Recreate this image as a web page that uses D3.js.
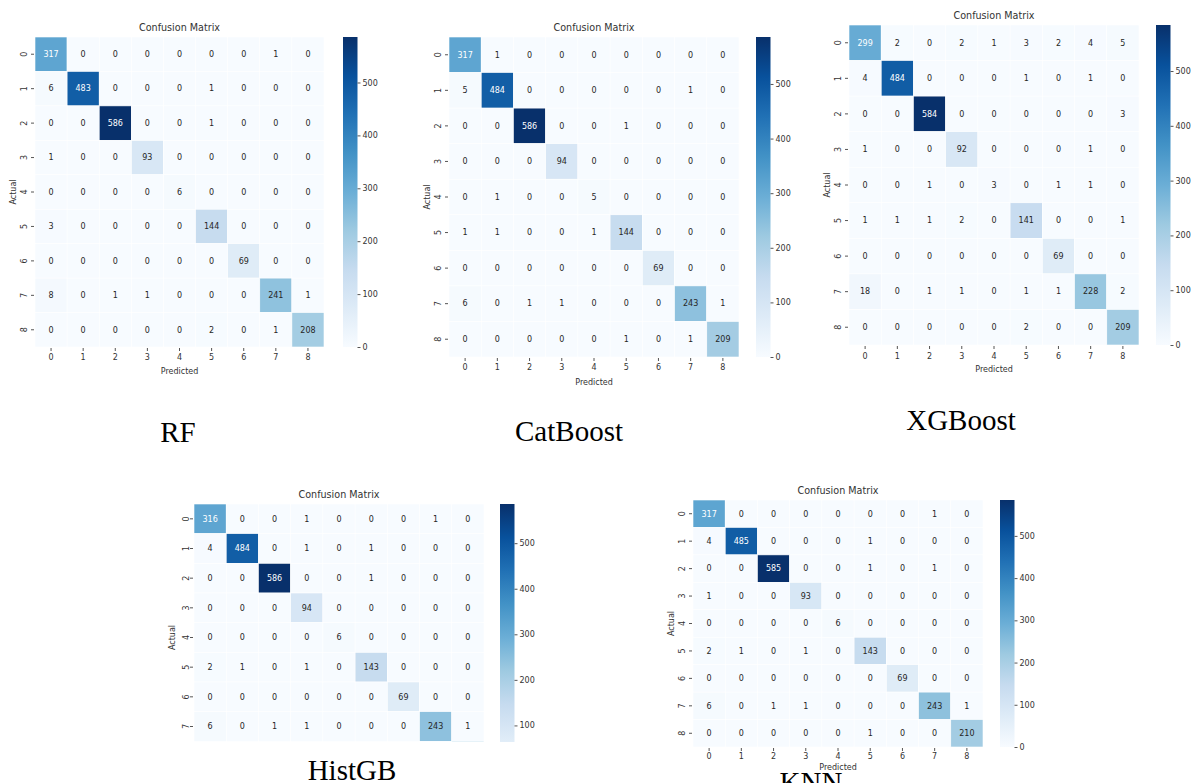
<!DOCTYPE html>
<html>
<head>
<meta charset="utf-8">
<script src="https://cdn.jsdelivr.net/npm/d3@7"></script>
<style>
body { margin: 0; background: #fff; }
svg { display: block; }
</style>
</head>
<body>
<script>
// class labels on both axes
const classes = ["0", "1", "2", "3", "4", "5", "6", "7", "8"]
const cbarTicks = [0, 100, 200, 300, 400, 500]

// confusion matrices, rows = actual, cols = predicted
const rfMatrix = [
    [317, 0, 0, 0, 0, 0, 0, 1, 0],
    [6, 483, 0, 0, 0, 1, 0, 0, 0],
    [0, 0, 586, 0, 0, 1, 0, 0, 0],
    [1, 0, 0, 93, 0, 0, 0, 0, 0],
    [0, 0, 0, 0, 6, 0, 0, 0, 0],
    [3, 0, 0, 0, 0, 144, 0, 0, 0],
    [0, 0, 0, 0, 0, 0, 69, 0, 0],
    [8, 0, 1, 1, 0, 0, 0, 241, 1],
    [0, 0, 0, 0, 0, 2, 0, 1, 208]
]
const catMatrix = [
    [317, 1, 0, 0, 0, 0, 0, 0, 0],
    [5, 484, 0, 0, 0, 0, 0, 1, 0],
    [0, 0, 586, 0, 0, 1, 0, 0, 0],
    [0, 0, 0, 94, 0, 0, 0, 0, 0],
    [0, 1, 0, 0, 5, 0, 0, 0, 0],
    [1, 1, 0, 0, 1, 144, 0, 0, 0],
    [0, 0, 0, 0, 0, 0, 69, 0, 0],
    [6, 0, 1, 1, 0, 0, 0, 243, 1],
    [0, 0, 0, 0, 0, 1, 0, 1, 209]
]
const xgbMatrix = [
    [299, 2, 0, 2, 1, 3, 2, 4, 5],
    [4, 484, 0, 0, 0, 1, 0, 1, 0],
    [0, 0, 584, 0, 0, 0, 0, 0, 3],
    [1, 0, 0, 92, 0, 0, 0, 1, 0],
    [0, 0, 1, 0, 3, 0, 1, 1, 0],
    [1, 1, 1, 2, 0, 141, 0, 0, 1],
    [0, 0, 0, 0, 0, 0, 69, 0, 0],
    [18, 0, 1, 1, 0, 1, 1, 228, 2],
    [0, 0, 0, 0, 0, 2, 0, 0, 209]
]
const histMatrix = [
    [316, 0, 0, 1, 0, 0, 0, 1, 0],
    [4, 484, 0, 1, 0, 1, 0, 0, 0],
    [0, 0, 586, 0, 0, 1, 0, 0, 0],
    [0, 0, 0, 94, 0, 0, 0, 0, 0],
    [0, 0, 0, 0, 6, 0, 0, 0, 0],
    [2, 1, 0, 1, 0, 143, 0, 0, 0],
    [0, 0, 0, 0, 0, 0, 69, 0, 0],
    [6, 0, 1, 1, 0, 0, 0, 243, 1],
    [0, 0, 0, 0, 0, 1, 0, 0, 210]   // hidden by the crop in the source
]
const knnMatrix = [
    [317, 0, 0, 0, 0, 0, 0, 1, 0],
    [4, 485, 0, 0, 0, 1, 0, 0, 0],
    [0, 0, 585, 0, 0, 1, 0, 1, 0],
    [1, 0, 0, 93, 0, 0, 0, 0, 0],
    [0, 0, 0, 0, 6, 0, 0, 0, 0],
    [2, 1, 0, 1, 0, 143, 0, 0, 0],
    [0, 0, 0, 0, 0, 0, 69, 0, 0],
    [6, 0, 1, 1, 0, 0, 0, 243, 1],
    [0, 0, 0, 0, 0, 1, 0, 0, 210]
]

// where each screenshot sits on the page
const panels = [
    { name: "RF", m: rfMatrix, x0: 35, x1: 324, y0: 37, y1: 347, cb: 343, xt: 11, xl: 24, lx: 178, ly: 442 },
    { name: "CatBoost", m: catMatrix, x0: 449, x1: 739, y0: 37, y1: 357, cb: 756, xt: 11, xl: 25, lx: 569, ly: 441 },
    { name: "XGBoost", m: xgbMatrix, x0: 849, x1: 1139, y0: 25, y1: 345, cb: 1156, xt: 12, xl: 24, lx: 961, ly: 430 },
    { name: "HistGB", m: histMatrix, x0: 194, x1: 484, y0: 504, y1: 771, cb: 500, xt: 11, xl: 24, lx: 352, ly: 780, clip: 742, yt: 8 },
    { name: "KNN", m: knnMatrix, x0: 693, x1: 983, y0: 500, y1: 747, cb: 1000, xt: 10, xl: 20, lx: 811, ly: 792 }
]

const W = 1195, H = 783
const font = "DejaVu Sans, sans-serif"
const txt = "#333"

// matplotlib "Blues" = linear segments through the 9 brewer colours
const blues = d3.scaleLinear()
    .domain(d3.range(9).map(i => i / 8))
    .range(d3.schemeBlues[9])
    .interpolate(d3.interpolateRgb)

function lum(c) {
    let rgb = d3.rgb(c)
    let f = v => { v /= 255; return v <= 0.03928 ? v / 12.92 : Math.pow((v + 0.055) / 1.055, 2.4) }
    return 0.2126 * f(rgb.r) + 0.7152 * f(rgb.g) + 0.0722 * f(rgb.b)
}

let svg = d3.select("body").append("svg")
    .attr("width", W)
    .attr("height", H)
    .style("font-family", font)

let defs = svg.append("defs")
let grad = defs.append("linearGradient")
    .attr("id", "cbar")
    .attr("x1", 0).attr("y1", 1).attr("x2", 0).attr("y2", 0)
d3.range(0, 1.0001, 0.125).forEach(t => {
    grad.append("stop").attr("offset", t).attr("stop-color", blues(t))
})

panels.forEach((p, pi) => drawPanel(p, pi))

function drawPanel(p, pi) {
    let vmax = d3.max(p.m.flat())
    let x = d3.scaleBand().domain(classes).range([p.x0, p.x1])
    let y = d3.scaleBand().domain(classes).range([p.y0, p.y1])
    let color = v => blues(v / vmax)
    // the HistGB screenshot is cropped at the bottom
    let bottom = p.clip || H
    let shown = py => py < bottom - 4

    let g = svg.append("g")
    if (p.clip) {
        defs.append("clipPath").attr("id", "clip" + pi)
            .append("rect").attr("x", 0).attr("y", 0).attr("width", W).attr("height", p.clip)
        g.attr("clip-path", `url(#clip${pi})`)
    }

    let cells = []
    p.m.forEach((row, r) => row.forEach((v, c) => cells.push({ r: r, c: c, v: v })))

    g.append("g").selectAll("rect")
        .data(cells)
        .enter()
        .append("rect")
            .attr("x", d => x(classes[d.c]))
            .attr("y", d => y(classes[d.r]))
            .attr("width", x.bandwidth())
            .attr("height", y.bandwidth())
            .attr("fill", d => color(d.v))
            .attr("stroke", "#fff")
            .attr("stroke-width", 0.6)

    g.append("g").selectAll("text")
        .data(cells.filter(d => shown(y(classes[d.r]) + y.bandwidth() / 2)))
        .enter()
        .append("text")
            .attr("x", d => x(classes[d.c]) + x.bandwidth() / 2)
            .attr("y", d => y(classes[d.r]) + y.bandwidth() / 2)
            .attr("text-anchor", "middle")
            .attr("dy", "0.35em")
            .style("font-size", "8px")
            .attr("fill", d => lum(color(d.v)) > 0.408 ? "#262626" : "#fff")
            .text(d => d.v)

    // title
    g.append("text")
        .attr("x", (p.x0 + p.x1) / 2)
        .attr("y", p.y0 - 6)
        .attr("text-anchor", "middle")
        .style("font-size", "9.6px")
        .attr("fill", txt)
        .text("Confusion Matrix")

    // x axis (only if the crop leaves it visible)
    if (!p.clip) {
        let xa = g.append("g")
            .attr("transform", `translate(0,${p.y1})`)
            .call(d3.axisBottom(x).tickSize(3).tickPadding(p.xt - 7))
        xa.select(".domain").remove()
        xa.selectAll("line").attr("stroke", "#555").attr("transform", "translate(0,1)")
        xa.selectAll("text").style("font-size", "8px").style("font-family", font).attr("fill", txt)

        g.append("text")
            .attr("x", (p.x0 + p.x1) / 2)
            .attr("y", p.y1 + p.xl + 3)
            .attr("text-anchor", "middle")
            .style("font-size", "8px")
            .attr("fill", txt)
            .text("Predicted")
    }

    // y axis, labels rotated like matplotlib
    let yt = p.yt || 11
    let ya = g.append("g")
        .attr("transform", `translate(${p.x0},0)`)
        .call(d3.axisLeft(y).tickSize(3).tickFormat(""))
    ya.select(".domain").remove()
    ya.selectAll("line").attr("stroke", "#555").attr("transform", "translate(-1,0)")
    g.append("g").selectAll("text")
        .data(classes.filter(d => shown(y(d) + y.bandwidth() / 2)))
        .enter()
        .append("text")
            .attr("transform", d => `translate(${p.x0 - yt + 3},${y(d) + y.bandwidth() / 2}) rotate(-90)`)
            .attr("text-anchor", "middle")
            .style("font-size", "8px")
            .attr("fill", txt)
            .text(d => d)

    g.append("text")
        .attr("transform", `translate(${p.x0 - 19},${(p.y0 + p.y1) / 2}) rotate(-90)`)
        .attr("text-anchor", "middle")
        .style("font-size", "8px")
        .attr("fill", txt)
        .text("Actual")

    // colour bar
    let cy = d3.scaleLinear().domain([0, vmax]).range([p.y1, p.y0])
    g.append("rect")
        .attr("x", p.cb)
        .attr("y", p.y0)
        .attr("width", 14.5)
        .attr("height", p.y1 - p.y0)
        .attr("fill", "url(#cbar)")
    let ca = g.append("g")
        .attr("transform", `translate(${p.cb + 14.5},0)`)
        .call(d3.axisRight(cy).tickValues(cbarTicks.filter(v => shown(cy(v)))).tickSize(3).tickPadding(2))
    ca.select(".domain").remove()
    ca.selectAll("line").attr("stroke", "#555")
    ca.selectAll("text").style("font-size", "8px").style("font-family", font).attr("fill", txt)

    // model name under the screenshot
    svg.append("text")
        .attr("x", p.lx)
        .attr("y", p.ly)
        .attr("text-anchor", "middle")
        .style("font-family", "Liberation Serif, Times New Roman, serif")
        .style("font-size", "29px")
        .attr("fill", "#000")
        .text(p.name)
}
</script>
</body>
</html>
